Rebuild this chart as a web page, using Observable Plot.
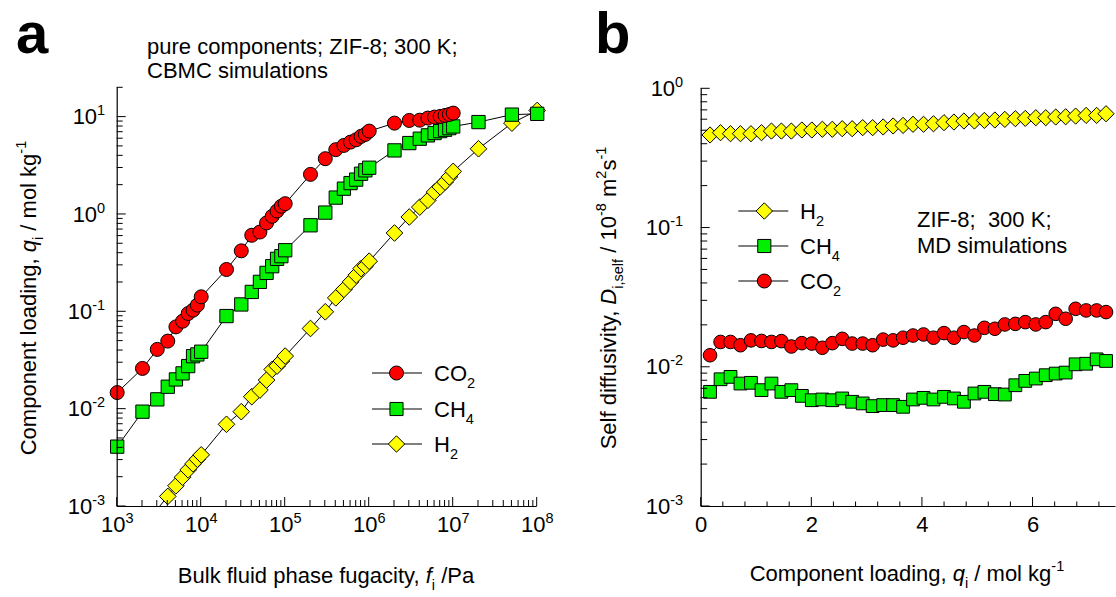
<!DOCTYPE html>
<html><head><meta charset="utf-8">
<script src="https://cdn.jsdelivr.net/npm/d3@7"></script>
<script src="https://cdn.jsdelivr.net/npm/@observablehq/plot@0.6"></script>
<style>
html,body{margin:0;padding:0;background:#fff;}
#wrap{position:relative;width:1116px;height:597px;overflow:hidden;}
#wrap svg{position:absolute;top:0;overflow:visible;}
</style></head><body><div id="wrap"></div>
<script>
// ---------- Panel a: CBMC isotherms (fugacity / Pa, loading / mol kg-1) ----------
const fugCO2 = [1e3,2e3,3e3,4e3,5e3,6e3,7e3,8e3,9e3,1e4,2e4,3e4,4e4,5e4,6e4,7e4,8e4,9e4,1e5,2e5,3e5,4e5,5e5,6e5,7e5,8e5,9e5,1e6,2e6,3e6,4e6,5e6,6e6,7e6,8e6,9e6,1e7];
const loadCO2 = [0.0148,0.0262,0.0411,0.050,0.070,0.080,0.096,0.104,0.117,0.1425,0.272,0.423,0.611,0.66,0.818,0.957,1.086,1.213,1.29,2.58,3.74,4.63,5.12,5.54,5.85,6.34,6.64,7.18,8.67,9.24,9.3,9.77,10.0,10.16,10.4,10.65,10.99];
const fugCH4 = [1e3,2e3,3e3,4e3,5e3,6e3,7e3,8e3,9e3,1e4,2e4,3e4,4e4,5e4,6e4,7e4,8e4,9e4,1e5,2e5,3e5,4e5,5e5,6e5,7e5,8e5,9e5,1e6,2e6,3e6,4e6,5e6,6e6,7e6,8e6,9e6,1e7,2e7,5e7,1e8];
const loadCH4 = [0.00412,0.00942,0.0126,0.0170,0.0202,0.0233,0.0277,0.0350,0.0365,0.0389,0.0904,0.119,0.160,0.203,0.251,0.294,0.350,0.373,0.429,0.774,1.045,1.49,1.84,2.10,2.28,2.62,2.84,3.02,4.55,5.41,6.0,6.49,6.86,7.18,7.42,7.71,8.02,8.89,10.6,10.8];
const fugH2 = [3e3,4e3,5e3,6e3,7e3,8e3,9e3,1e4,2e4,3e4,4e4,5e4,6e4,7e4,8e4,9e4,1e5,2e5,3e5,4e5,5e5,6e5,7e5,8e5,9e5,1e6,2e6,3e6,4e6,5e6,6e6,7e6,8e6,9e6,1e7,2e7,5e7,1e8];
const loadH2 = [0.00094,0.00127,0.00163,0.0020,0.00238,0.00274,0.00306,0.00339,0.00699,0.00942,0.01343,0.0157,0.0199,0.0256,0.0277,0.0312,0.0351,0.0674,0.100,0.139,0.170,0.203,0.238,0.278,0.296,0.331,0.645,0.942,1.19,1.40,1.70,1.92,2.15,2.43,2.77,4.73,8.67,11.7];
const fugTicks = [1e3,1e4,1e5,1e6,1e7,1e8];
const fugTickLabels = ["10^3","10^4","10^5","10^6","10^7","10^8"];
const loadTicksA = [1e-3,1e-2,1e-1,1,10];
const loadTickLabelsA = ["10^-3","10^-2","10^-1","10^0","10^1"];

// ---------- Panel b: MD self-diffusivities ----------
const loadingMD = [0.16,0.35,0.53,0.71,0.90,1.09,1.27,1.45,1.63,1.82,2.00,2.19,2.37,2.55,2.73,2.92,3.10,3.29,3.47,3.65,3.83,4.02,4.20,4.39,4.57,4.75,4.94,5.12,5.31,5.49,5.68,5.86,6.05,6.23,6.41,6.59,6.77,6.96,7.15,7.32];
const dselfH2 = [0.466,0.484,0.476,0.476,0.476,0.484,0.497,0.497,0.497,0.506,0.506,0.512,0.512,0.517,0.517,0.526,0.526,0.532,0.541,0.546,0.556,0.556,0.561,0.571,0.577,0.587,0.587,0.593,0.597,0.603,0.610,0.613,0.620,0.620,0.627,0.630,0.637,0.644,0.644,0.662];
const dselfCO2 = [0.0122,0.0152,0.0152,0.0144,0.0156,0.01545,0.0152,0.0154,0.0141,0.0149,0.0148,0.0138,0.0149,0.0160,0.0148,0.0148,0.0144,0.0158,0.0156,0.0163,0.0169,0.0172,0.0163,0.0176,0.0163,0.0179,0.0169,0.0192,0.0189,0.0203,0.0205,0.0211,0.0203,0.0211,0.0242,0.0223,0.0263,0.0256,0.0256,0.0249];
const dselfCH4 = [0.00666,0.0082,0.00853,0.00764,0.00773,0.00685,0.00764,0.00666,0.00685,0.00623,0.0058,0.00587,0.0058,0.00597,0.00565,0.0055,0.00526,0.00535,0.00535,0.0052,0.00587,0.00603,0.00587,0.00613,0.00597,0.00565,0.00648,0.00666,0.00641,0.00637,0.00743,0.00798,0.0083,0.00877,0.00901,0.00916,0.0105,0.0106,0.0114,0.0111];
const loadTicksB = [0,2,4,6];
const loadTickLabelsB = ["0","2","4","6"];
const dTicks = [1e-3,1e-2,1e-1,1];
const dTickLabels = ["10^-3","10^-2","10^-1","10^0"];

const colors = {CO2: "#ff0000", CH4: "#00f000", H2: "#ffff00"};
const FONT = '"Liberation Sans", Arial, Helvetica, sans-serif';
const FS = 22;

// minor tick positions for log axes
function logMinor(lo, hi) {
  const out = [];
  for (let e = Math.floor(Math.log10(lo)); e <= Math.ceil(Math.log10(hi)); e++)
    for (let m = 2; m <= 9; m++) { const v = m * Math.pow(10, e); if (v >= lo * 0.999 && v <= hi * 1.001) out.push(v); }
  return out;
}
const zip = (xs, ys) => xs.map((x, i) => ({x, y: ys[i]}));

// ---------- build panel a ----------
const A = {w: 558, h: 597, ml: 116.7, mr: 21.3, mt: 87.3, mb: 91};
const seriesA = [
  {data: zip(fugH2, loadH2), sym: "diamond2", r: 7.5, fill: colors.H2},
  {data: zip(fugCH4, loadCH4), sym: "square", r: 7.5, fill: colors.CH4},
  {data: zip(fugCO2, loadCO2), sym: "circle", r: 7, fill: colors.CO2}
];
const plotA = Plot.plot({
  width: A.w, height: A.h, marginLeft: A.ml, marginRight: A.mr, marginTop: A.mt, marginBottom: A.mb,
  style: {fontFamily: FONT, fontSize: FS + "px", color: "#000", background: "transparent", overflow: "visible"},
  x: {type: "log", domain: [1e3, 1e8], axis: null},
  y: {type: "log", domain: [1e-3, 20], axis: null},
  marks: [
    ...seriesA.map(s => Plot.line(s.data, {x: "x", y: "y", stroke: "#000", strokeWidth: 1, clip: true})),
    ...seriesA.map(s => Plot.dot(s.data.filter(d => d.y >= 1e-3), {x: "x", y: "y", symbol: s.sym, r: s.r, fill: s.fill, stroke: "#000", strokeWidth: 1})),
    Plot.ruleX([1e3], {stroke: "#000", strokeWidth: 1.2}),
    Plot.ruleY([1e-3], {stroke: "#000", strokeWidth: 1.2}),
    Plot.text(fugTicks, {x: d => d, frameAnchor: "bottom", dy: 25, text: (d, i) => fugTickLabels[i], textAnchor: "middle", fontSize: FS}),
    Plot.text(loadTicksA, {y: d => d, frameAnchor: "left", dx: -12, text: (d, i) => loadTickLabelsA[i], textAnchor: "end", fontSize: FS})
  ]
});

// ---------- build panel b ----------
const B = {w: 558, h: 597, ml: 142.7, mr: 0.5, mt: 88.3, mb: 91};
const seriesB = [
  {data: zip(loadingMD, dselfH2), sym: "diamond2", r: 7.3, fill: colors.H2},
  {data: zip(loadingMD, dselfCH4), sym: "square", r: 7.2, fill: colors.CH4},
  {data: zip(loadingMD, dselfCO2), sym: "circle", r: 6.8, fill: colors.CO2}
];
const plotB = Plot.plot({
  width: B.w, height: B.h, marginLeft: B.ml, marginRight: B.mr, marginTop: B.mt, marginBottom: B.mb,
  style: {fontFamily: FONT, fontSize: FS + "px", color: "#000", background: "transparent", overflow: "visible"},
  x: {type: "linear", domain: [0, 7.5], axis: null},
  y: {type: "log", domain: [1e-3, 1], axis: null},
  marks: [
    ...seriesB.map(s => Plot.line(s.data, {x: "x", y: "y", stroke: "#000", strokeWidth: 1})),
    ...seriesB.map(s => Plot.dot(s.data, {x: "x", y: "y", symbol: s.sym, r: s.r, fill: s.fill, stroke: "#000", strokeWidth: 1})),
    Plot.ruleX([0], {stroke: "#000", strokeWidth: 1.2}),
    Plot.ruleY([1e-3], {stroke: "#000", strokeWidth: 1.2}),
    Plot.text(loadTicksB, {x: d => d, frameAnchor: "bottom", dy: 25, text: (d, i) => loadTickLabelsB[i], textAnchor: "middle", fontSize: FS}),
    Plot.text(dTicks, {y: d => d, frameAnchor: "left", dx: -18, text: (d, i) => dTickLabels[i], textAnchor: "end", fontSize: FS})
  ]
});

const wrap = document.getElementById("wrap");
plotA.style.left = "0px"; plotB.style.left = "558px";
wrap.appendChild(plotA); wrap.appendChild(plotB);

// superscript exponents in tick labels
function supTicks(svg) {
  d3.select(svg).selectAll("text").each(function () {
    const s = this.textContent;
    if (!s.includes("^")) return;
    const parts = s.split("^");
    const t = d3.select(this); t.text(null);
    t.append("tspan").text(parts[0]);
    t.append("tspan").attr("dy", -9).attr("font-size", 14.5).text(parts[1]);
  });
}
supTicks(plotA); supTicks(plotB);

// inward-pointing tick marks positioned by the plot's own scales
function ticks(svg, axis, values, len) {
  const sx = svg.scale("x"), sy = svg.scale("y");
  const g = d3.select(svg).append("g").attr("stroke", "#000").attr("stroke-width", 1);
  const xr = sx.range, yr = sy.range;
  const x0 = Math.min(...xr), y0 = Math.max(...yr);
  for (const v of values) {
    if (axis === "x") { const px = sx.apply(v); g.append("line").attr("x1", px).attr("x2", px).attr("y1", y0).attr("y2", y0 - len); }
    else { const py = sy.apply(v); g.append("line").attr("x1", x0).attr("x2", x0 + len).attr("y1", py).attr("y2", py); }
  }
}
ticks(plotA, "x", logMinor(1e3, 1e8), 6);
ticks(plotA, "x", fugTicks, 9);
ticks(plotA, "y", logMinor(1e-3, 20), 6);
ticks(plotA, "y", loadTicksA, 9);
const minorB = d3.range(0, 7.5, 0.4).filter(v => !loadTicksB.some(t => Math.abs(t - v) < 1e-6));
ticks(plotB, "x", minorB, 4.5);
ticks(plotB, "x", loadTicksB, 9);
ticks(plotB, "y", logMinor(1e-3, 1), 6.5);
ticks(plotB, "y", dTicks, 9);

// rich text helper: parts [text, mode] where mode in "", "i", "sub", "sup"
function rich(sel, parts, size) {
  let shift = 0;
  for (const [t, m] of parts) {
    const ts = sel.append("tspan").text(t);
    let target = 0;
    if (m === "sub") target = 0.32 * size;
    if (m === "sup") target = -0.45 * size;
    if (target - shift !== 0) ts.attr("dy", target - shift);
    shift = target;
    if (m === "sub" || m === "sup") ts.attr("font-size", 0.66 * size);
    if (m === "i") ts.attr("font-style", "italic");
  }
  return sel;
}
function label(svg, x, y, parts, opt = {}) {
  const size = opt.size || FS;
  const t = d3.select(svg).append("text")
    .attr("font-family", FONT).attr("font-size", size).attr("fill", "#000")
    .attr("text-anchor", opt.anchor || "start")
    .attr("font-weight", opt.weight || null);
  if (opt.rotate) t.attr("transform", `translate(${x},${y}) rotate(${opt.rotate})`);
  else t.attr("x", x).attr("y", y);
  rich(t, parts, size);
  return t;
}
function legendItem(svg, x0, x1, xm, xt, y, sym, fill, parts) {
  const g = d3.select(svg).append("g");
  g.append("line").attr("x1", x0).attr("x2", x1).attr("y1", y).attr("y2", y).attr("stroke", "#000").attr("stroke-width", 1);
  const r = sym === "circle" ? 7 : 7.4;
  g.append("path").attr("transform", `translate(${xm},${y})`)
    .attr("d", d3.symbol(sym === "circle" ? d3.symbolCircle : sym === "square" ? d3.symbolSquare : d3.symbolDiamond2, Math.PI * r * r)())
    .attr("fill", fill).attr("stroke", "#000").attr("stroke-width", 1);
  label(svg, xt, y + 7.8, parts);
}

// panel a texts
label(plotA, 16, 53, [["a", ""]], {size: 58, weight: "bold"});
label(plotA, 147, 54, [["pure components; ZIF-8; 300 K;", ""]]);
label(plotA, 147, 78.3, [["CBMC simulations", ""]]);
label(plotA, 326, 583, [["Bulk fluid phase fugacity, ", ""], ["f", "i"], ["i", "sub"], [" /Pa", ""]], {anchor: "middle"});
label(plotA, 36, 298, [["Component loading, ", ""], ["q", "i"], ["i", "sub"], [" / mol kg", ""], ["-1", "sup"]], {anchor: "middle", rotate: -90});
legendItem(plotA, 372, 422, 396.5, 434, 373, "circle", colors.CO2, [["CO", ""], ["2", "sub"]]);
legendItem(plotA, 372, 422, 396.5, 434, 409, "square", colors.CH4, [["CH", ""], ["4", "sub"]]);
legendItem(plotA, 372, 422, 396.5, 434, 444, "diamond", colors.H2, [["H", ""], ["2", "sub"]]);

// panel b texts
label(plotB, 37, 53, [["b", ""]], {size: 58, weight: "bold"});
label(plotB, 359, 227, [["ZIF-8;  300 K;", ""]]);
label(plotB, 359, 253, [["MD simulations", ""]]);
label(plotB, 349, 581, [["Component loading, ", ""], ["q", "i"], ["i", "sub"], [" / mol kg", ""], ["-1", "sup"]], {anchor: "middle"});
label(plotB, 58, 298, [["Self diffusivity, ", ""], ["D", "i"], ["i,self", "sub"], [" / 10", ""], ["-8", "sup"], [" m", ""], ["2", "sup"], ["s", ""], ["-1", "sup"]], {anchor: "middle", rotate: -90});
legendItem(plotB, 180.3, 230.3, 206.3, 242, 211, "diamond", colors.H2, [["H", ""], ["2", "sub"]]);
legendItem(plotB, 180.3, 230.3, 206.3, 242, 246, "square", colors.CH4, [["CH", ""], ["4", "sub"]]);
legendItem(plotB, 180.3, 230.3, 206.3, 242, 281, "circle", colors.CO2, [["CO", ""], ["2", "sub"]]);
</script>
</body></html>
